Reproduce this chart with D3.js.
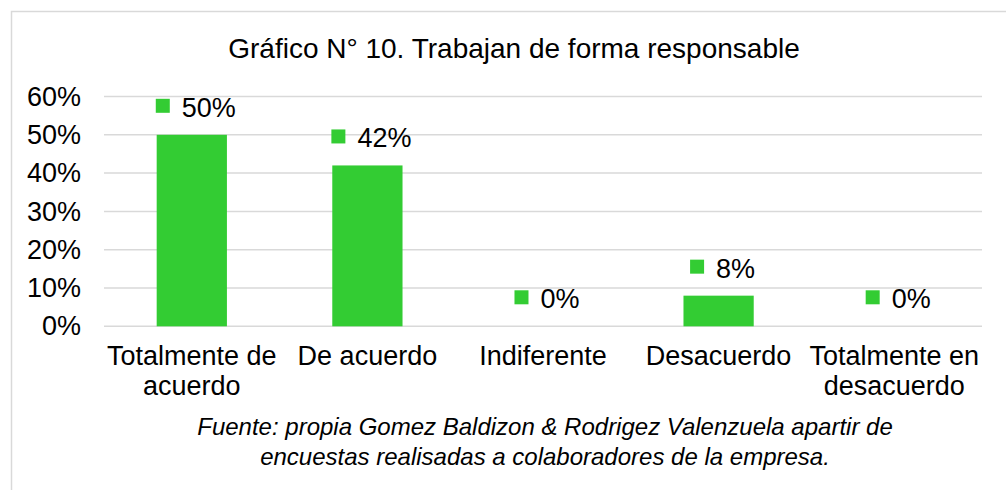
<!DOCTYPE html>
<html>
	<head>
		<meta charset="utf-8" />
		<title>Trabajan de forma responsable</title>
		<style>
			body,
			html {
				margin: 0;
				padding: 0;
				background: #fff;
			}
			text {
				font-family: 'Liberation Sans', Arial, sans-serif;
				fill: #000;
			}
		</style>
	</head>
	<body>
		<svg id="svg" width="1006" height="490"></svg>

		<script src="https://d3js.org/d3.v7.min.js"></script>
		<script>
			// chart data
			const categories = [
				['Totalmente de', 'acuerdo'],
				['De acuerdo'],
				['Indiferente'],
				['Desacuerdo'],
				['Totalmente en', 'desacuerdo']
			];
			const values = [0.5, 0.42, 0, 0.08, 0];
			const yTicks = [0, 0.1, 0.2, 0.3, 0.4, 0.5, 0.6];
			const title = 'Gráfico N° 10. Trabajan de forma responsable';
			const source = [
				'Fuente: propia Gomez Baldizon & Rodrigez Valenzuela apartir de',
				'encuestas realisadas a colaboradores de la empresa.'
			];

			const green = '#33cc33';
			const grid = '#d9d9d9';

			const svg = d3.select('#svg');

			// outer border of the chart area
			svg
				.append('rect')
				.attr('x', 11.5)
				.attr('y', 11.5)
				.attr('width', 1010)
				.attr('height', 500)
				.attr('fill', 'none')
				.attr('stroke', grid)
				.attr('stroke-width', 1.5);

			svg
				.append('text')
				.attr('x', 514)
				.attr('y', 58)
				.attr('text-anchor', 'middle')
				.style('font-size', '28px')
				.text(title);

			const plotLeft = 104,
				plotRight = 982,
				plotTop = 96.5,
				plotBottom = 326.3;

			const xscale = d3
				.scaleBand()
				.domain(d3.range(categories.length))
				.range([plotLeft, plotRight])
				.paddingInner(0.6)
				.paddingOuter(0.3);

			const yscale = d3.scaleLinear().domain([0, 0.6]).range([plotBottom, plotTop]);

			// gridlines
			svg
				.append('g')
				.selectAll('line')
				.data(yTicks)
				.enter()
				.append('line')
				.attr('x1', plotLeft)
				.attr('x2', plotRight)
				.attr('y1', (d) => yscale(d))
				.attr('y2', (d) => yscale(d))
				.attr('stroke', grid)
				.attr('stroke-width', 1.5);

			// y axis labels
			const leftAxis = d3
				.axisLeft(yscale)
				.tickValues(yTicks)
				.tickFormat(d3.format('.0%'))
				.tickSize(0)
				.tickPadding(23);
			const ya = svg.append('g').attr('transform', `translate(${plotLeft}, 0)`).call(leftAxis);
			ya.select('.domain').remove();
			ya.selectAll('text')
				.style('font-size', '27px')
				.style('font-family', "'Liberation Sans', Arial, sans-serif")
				.attr('fill', '#000');

			// bars
			svg
				.append('g')
				.selectAll('rect')
				.data(values)
				.enter()
				.append('rect')
				.attr('x', (d, i) => xscale(i))
				.attr('width', xscale.bandwidth())
				.attr('y', (d) => yscale(d))
				.attr('height', (d) => plotBottom - yscale(d))
				.attr('fill', green);

			// data labels with legend key: square, gap, text, centred over the bar
			const lab = svg
				.append('g')
				.selectAll('g')
				.data(values)
				.enter()
				.append('g')
				.attr('transform', (d, i) => {
					const cx = xscale(i) + xscale.bandwidth() / 2 + 4;
					return `translate(${cx}, ${yscale(d) - 18})`;
				});
			lab
				.append('text')
				.style('font-size', '27px')
				.text((d) => d3.format('.0%')(d));
			lab.each(function () {
				const g = d3.select(this);
				const t = g.select('text');
				const tw = t.node().getComputedTextLength();
				const total = 14 + 12 + tw;
				t.attr('x', -total / 2 + 26);
				g.append('rect')
					.attr('x', -total / 2)
					.attr('y', -18)
					.attr('width', 14)
					.attr('height', 14)
					.attr('fill', green);
			});

			// category labels
			const cat = svg
				.append('g')
				.selectAll('text')
				.data(categories)
				.enter()
				.append('text')
				.attr('x', (d, i) => xscale(i) + xscale.bandwidth() / 2)
				.attr('y', 365)
				.attr('text-anchor', 'middle')
				.style('font-size', '27px');
			cat
				.selectAll('tspan')
				.data((d) => d)
				.enter()
				.append('tspan')
				.attr('x', function () {
					return d3.select(this.parentNode).attr('x');
				})
				.attr('dy', (d, i) => (i === 0 ? 0 : 30))
				.text((d) => d);

			// source note
			svg
				.append('g')
				.selectAll('text')
				.data(source)
				.enter()
				.append('text')
				.attr('x', 545)
				.attr('y', (d, i) => 435 + i * 30)
				.attr('text-anchor', 'middle')
				.style('font-size', '24px')
				.style('font-style', 'italic')
				.text((d) => d);
		</script>
	</body>
</html>
